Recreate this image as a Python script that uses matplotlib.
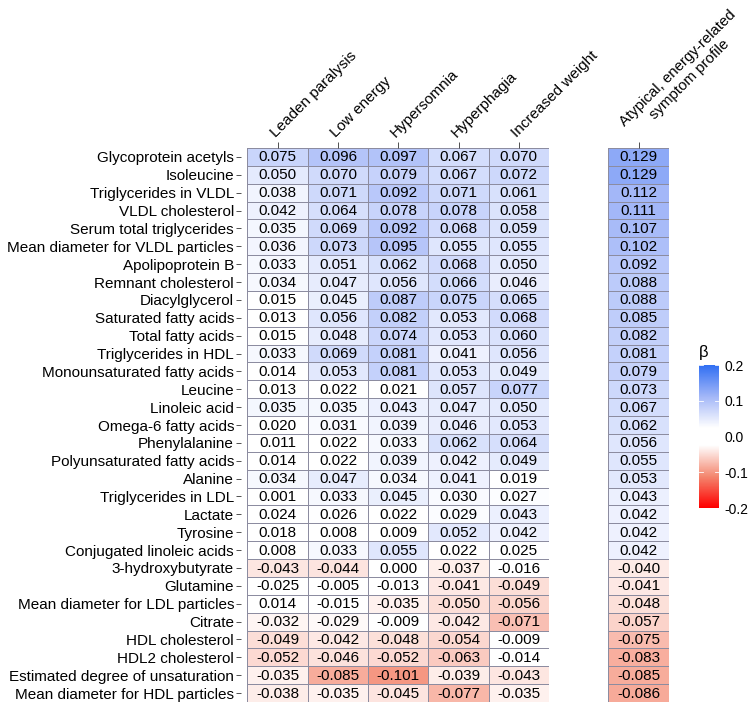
import numpy as np
import matplotlib
matplotlib.use("Agg")
import matplotlib.pyplot as plt
from matplotlib.colors import LinearSegmentedColormap, Normalize

plt.rcParams['font.family'] = ['Liberation Sans', 'DejaVu Sans']

metabolites = [
    "Glycoprotein acetyls", "Isoleucine", "Triglycerides in VLDL", "VLDL cholesterol",
    "Serum total triglycerides", "Mean diameter for VLDL particles", "Apolipoprotein B",
    "Remnant cholesterol", "Diacylglycerol", "Saturated fatty acids", "Total fatty acids",
    "Triglycerides in HDL", "Monounsaturated fatty acids", "Leucine", "Linoleic acid",
    "Omega-6 fatty acids", "Phenylalanine", "Polyunsaturated fatty acids", "Alanine",
    "Triglycerides in LDL", "Lactate", "Tyrosine", "Conjugated linoleic acids",
    "3-hydroxybutyrate", "Glutamine", "Mean diameter for LDL particles", "Citrate",
    "HDL cholesterol", "HDL2 cholesterol", "Estimated degree of unsaturation",
    "Mean diameter for HDL particles",
]

symptoms = ["Leaden paralysis", "Low energy", "Hypersomnia", "Hyperphagia", "Increased weight"]
profile_label = "Atypical, energy-related\nsymptom profile"

leaden = [0.075, 0.050, 0.038, 0.042, 0.035, 0.036, 0.033, 0.034, 0.015, 0.013, 0.015,
          0.033, 0.014, 0.013, 0.035, 0.020, 0.011, 0.014, 0.034, 0.001, 0.024, 0.018,
          0.008, -0.043, -0.025, 0.014, -0.032, -0.049, -0.052, -0.035, -0.038]
low_energy = [0.096, 0.070, 0.071, 0.064, 0.069, 0.073, 0.051, 0.047, 0.045, 0.056, 0.048,
              0.069, 0.053, 0.022, 0.035, 0.031, 0.022, 0.022, 0.047, 0.033, 0.026, 0.008,
              0.033, -0.044, -0.005, -0.015, -0.029, -0.042, -0.046, -0.085, -0.035]
hypersomnia = [0.097, 0.079, 0.092, 0.078, 0.092, 0.095, 0.062, 0.056, 0.087, 0.082, 0.074,
               0.081, 0.081, 0.021, 0.043, 0.039, 0.033, 0.039, 0.034, 0.045, 0.022, 0.009,
               0.055, 0.000, -0.013, -0.035, -0.009, -0.048, -0.052, -0.101, -0.045]
hyperphagia = [0.067, 0.067, 0.071, 0.078, 0.068, 0.055, 0.068, 0.066, 0.075, 0.053, 0.053,
               0.041, 0.053, 0.057, 0.047, 0.046, 0.062, 0.042, 0.041, 0.030, 0.029, 0.052,
               0.022, -0.037, -0.041, -0.050, -0.042, -0.054, -0.063, -0.039, -0.077]
increased_weight = [0.070, 0.072, 0.061, 0.058, 0.059, 0.055, 0.050, 0.046, 0.065, 0.068, 0.060,
                    0.056, 0.049, 0.077, 0.050, 0.053, 0.064, 0.049, 0.019, 0.027, 0.043, 0.042,
                    0.025, -0.016, -0.049, -0.056, -0.071, -0.009, -0.014, -0.043, -0.035]
profile = [0.129, 0.129, 0.112, 0.111, 0.107, 0.102, 0.092, 0.088, 0.088, 0.085, 0.082,
           0.081, 0.079, 0.073, 0.067, 0.062, 0.056, 0.055, 0.053, 0.043, 0.042, 0.042,
           0.042, -0.040, -0.041, -0.048, -0.057, -0.075, -0.083, -0.085, -0.086]

colorbar_ticks = [0.2, 0.1, 0.0, -0.1, -0.2]

# colour scale: red -> white (flat around 0) -> blue
vmin, vmax = -0.2, 0.2
nodes = [(-0.2, "#FF0000"), (-0.1125, "#F4876F"), (-0.025, "#FFFFFF"),
         (0.025, "#FFFFFF"), (0.1125, "#A3B7F8"), (0.2, "#3270F3")]
cmap = LinearSegmentedColormap.from_list(
    "beta", [((v - vmin) / (vmax - vmin), c) for v, c in nodes])
norm = Normalize(vmin=vmin, vmax=vmax)

W, H = 749, 707
fig = plt.figure(figsize=(W / 100, H / 100), dpi=100)

def ax_rect(x0, y0, x1, y1):
    return [x0 / W, 1 - y1 / H, (x1 - x0) / W, (y1 - y0) / H]

grid_top, grid_bot = 148, 702
cell_w = (549 - 247.5) / 5
left_gap = 6.5  # small space between y ticks and first tile
ax1 = fig.add_axes(ax_rect(247.5 - left_gap, grid_top, 549, grid_bot))
ax2 = fig.add_axes(ax_rect(608, grid_top, 669, grid_bot))
cax = fig.add_axes(ax_rect(699, 365, 719, 508))

fs = 11.0
edge = "#8C8CA0"

def draw(ax, mat, xlabels, show_y, xpad=0.0, label_fs=fs):
    mat = np.asarray(mat)
    nr, nc = mat.shape
    ax.pcolormesh(np.arange(nc + 1), np.arange(nr + 1), mat, cmap=cmap, norm=norm,
                  edgecolors=edge, linewidth=0.5)
    ax.set_xlim(-xpad, nc)
    ax.set_ylim(nr, 0)
    for i in range(nr):
        for j in range(nc):
            ax.text(j + 0.5, i + 0.53, f"{mat[i, j]:.3f}", ha="center", va="center",
                    fontsize=fs, color="black")
    ax.xaxis.tick_top()
    ax.set_xticks(np.arange(nc) + 0.5)
    ax.set_xticklabels(xlabels, rotation=45, ha="left", va="bottom",
                       rotation_mode="anchor", fontsize=label_fs, multialignment="center")
    ax.tick_params(axis="x", length=4, width=0.6, color="#333333", pad=1.5)
    ax.set_yticks(np.arange(nr) + 0.5)
    if show_y:
        ax.set_yticklabels(metabolites, fontsize=fs)
        ax.tick_params(axis="y", length=3.5, width=0.6, color="#333333", pad=1.5)
    else:
        ax.set_yticks([])
    for s in ax.spines.values():
        s.set_visible(False)

mat1 = np.column_stack([leaden, low_energy, hypersomnia, hyperphagia, increased_weight])
draw(ax1, mat1, symptoms, True, xpad=left_gap / cell_w)
mat2 = np.column_stack([profile])
draw(ax2, mat2, [profile_label], False, label_fs=10.8)

# colorbar
grad = np.linspace(vmin, vmax, 300).reshape(-1, 1)
cax.imshow(grad, aspect="auto", cmap=cmap, norm=norm, origin="lower",
           extent=[0, 1, vmin, vmax])
cax.set_xlim(0, 1)
cax.set_ylim(vmin, vmax)
cax.set_xticks([])
cax.yaxis.tick_right()
cax.set_yticks(colorbar_ticks)
cax.set_yticklabels([f"{t:.1f}" for t in colorbar_ticks], fontsize=fs - 1)
cax.tick_params(axis="y", length=0, pad=4)
for t in colorbar_ticks:
    cax.plot([0, 0.2], [t, t], color="white", lw=0.6)
    cax.plot([0.8, 1], [t, t], color="white", lw=0.6)
for s in cax.spines.values():
    s.set_visible(False)
cax.set_title("β", fontsize=fs + 1, loc="left", pad=6)

fig.savefig("out.png", dpi=100)
